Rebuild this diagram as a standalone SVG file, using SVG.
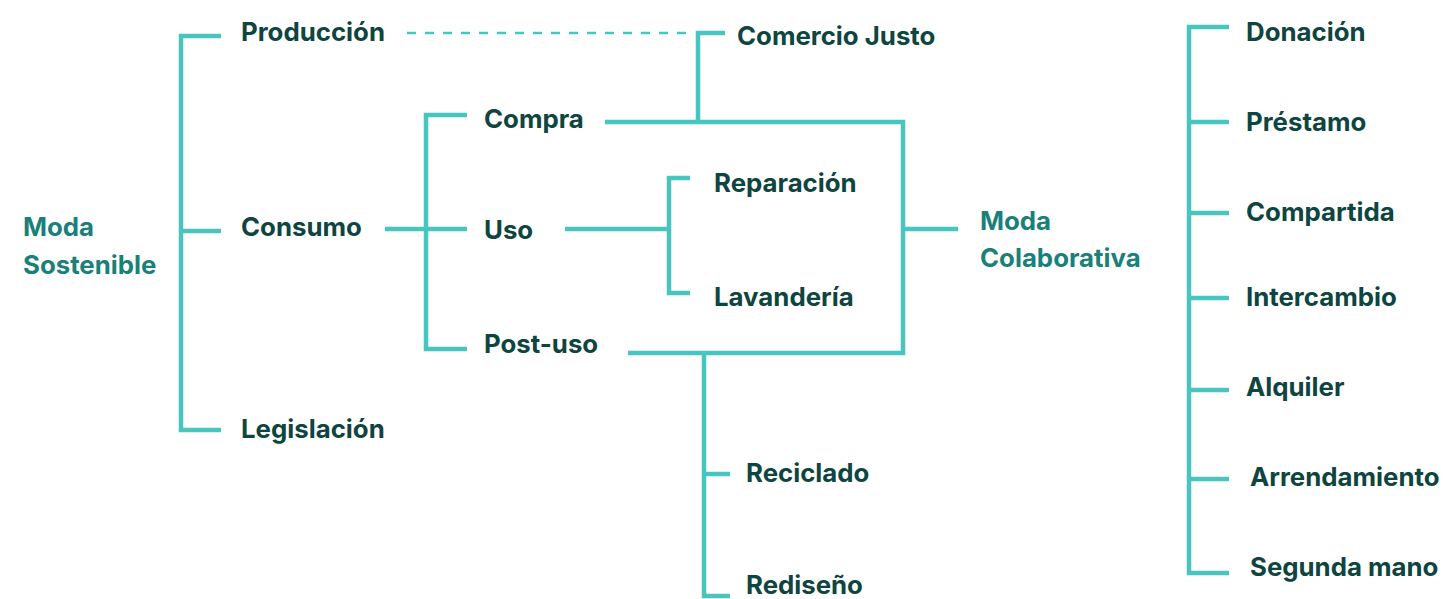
<svg xmlns="http://www.w3.org/2000/svg" width="1444" height="599" viewBox="0 0 1444 599">
<style>
.l{fill:none;stroke:#48C5BF;stroke-width:4.5;stroke-linecap:butt;stroke-linejoin:miter}
.d{fill:none;stroke:#48C5BF;stroke-width:2.5;stroke-dasharray:9 9}
text{font-family:Inter,"Liberation Sans",sans-serif;font-weight:700;font-size:25.8px;fill:#0E4540}
.h{fill:#1A8079}
</style>
<rect width="1444" height="599" fill="#fff"/>
<g id="connectors">
<path class="l" d="M221 36 H181 V430 H221 M181 231 H221"/>
<path class="d" d="M407 33 H692"/>
<path class="l" d="M385 229 H467 M467 115 H426 V349 H467"/>
<path class="l" d="M725 33 H698 V122"/>
<path class="l" d="M605 122 H903 V353 H628"/>
<path class="l" d="M565 229 H669 M690 178 H669 V293 H690"/>
<path class="l" d="M903 229 H958"/>
<path class="l" d="M704 353 V596 H730 M704 474 H730"/>
<path class="l" d="M1229 27 H1189 V573 H1229 M1189 122 H1229 M1189 213 H1229 M1189 298 H1229 M1189 390 H1229 M1189 479 H1229"/>
</g>
<g id="moda-sostenible"><text class="h" x="23" y="236">Moda</text><text class="h" x="23" y="274">Sostenible</text></g>
<g id="produccion"><text x="241" y="41">Producción</text></g>
<g id="consumo"><text x="241" y="236">Consumo</text></g>
<g id="legislacion"><text x="241" y="438">Legislación</text></g>
<g id="comercio-justo"><text x="737" y="45">Comercio Justo</text></g>
<g id="compra"><text x="484" y="128">Compra</text></g>
<g id="uso"><text x="484" y="239">Uso</text></g>
<g id="post-uso"><text x="484" y="353">Post-uso</text></g>
<g id="reparacion"><text x="714" y="192">Reparación</text></g>
<g id="lavanderia"><text x="714" y="306">Lavandería</text></g>
<g id="moda-colaborativa"><text class="h" x="980" y="230">Moda</text><text class="h" x="980" y="267">Colaborativa</text></g>
<g id="reciclado"><text x="746" y="482">Reciclado</text></g>
<g id="rediseno"><text x="746" y="594">Rediseño</text></g>
<g id="donacion"><text x="1246" y="41">Donación</text></g>
<g id="prestamo"><text x="1246" y="131">Préstamo</text></g>
<g id="compartida"><text x="1246" y="221">Compartida</text></g>
<g id="intercambio"><text x="1246" y="306">Intercambio</text></g>
<g id="alquiler"><text x="1246" y="396">Alquiler</text></g>
<g id="arrendamiento"><text x="1250" y="486">Arrendamiento</text></g>
<g id="segunda-mano"><text x="1250" y="576">Segunda mano</text></g>
</svg>
